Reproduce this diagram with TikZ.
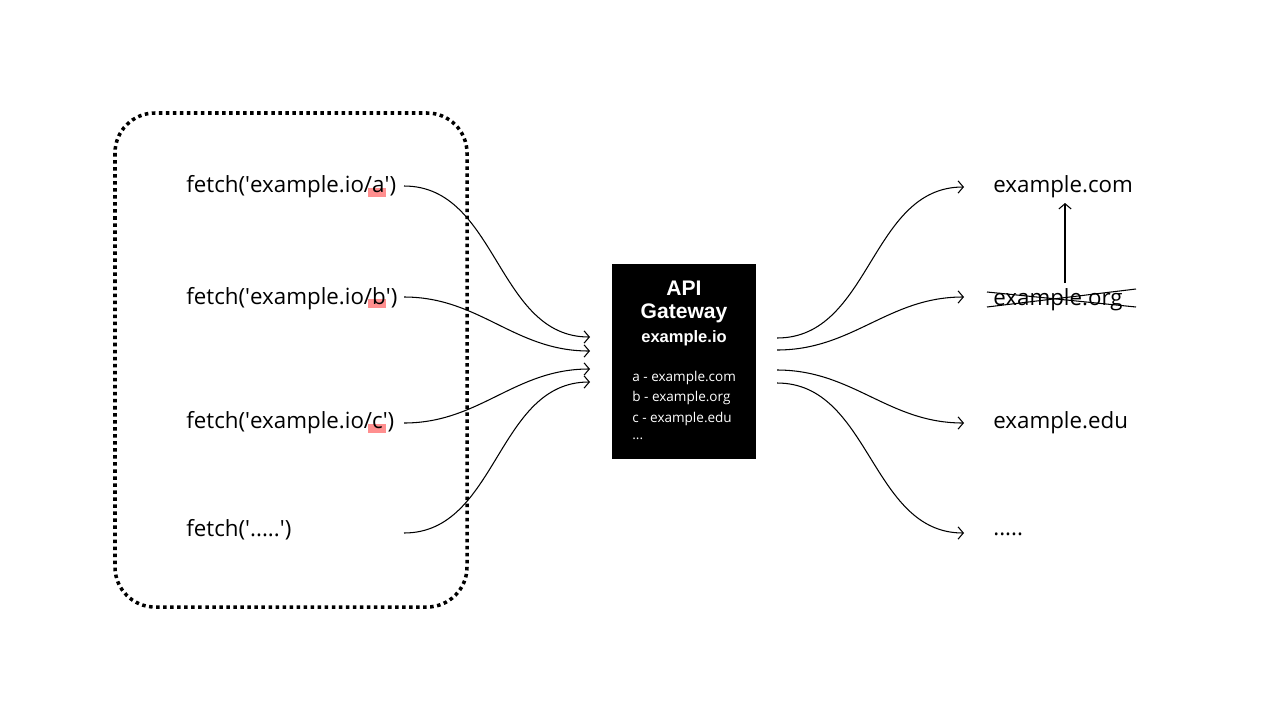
\documentclass[tikz,border=0pt]{standalone}
\usepackage{fontspec}
\setmainfont{Open Sans}
\newfontfamily\gwfont{Liberation Sans}
\usetikzlibrary{calc,arrows.meta}
\newcommand\sq{\textquotesingle}

\begin{document}
\begin{tikzpicture}[x=0.02cm,y=-0.02cm,font=\fontsize{12.7}{15}\selectfont]
\tikzset{
  txt/.style={anchor=west,inner sep=0pt},
  link/.style={-{Straight Barb[length=3pt,width=7pt]},line width=0.6pt},
  hilite/.style={fill=red!55!white,opacity=0.8},
  gwtitle/.style={white,font=\gwfont\bfseries\fontsize{12}{14}\selectfont},
  gwlist/.style={txt,white,font=\fontsize{7.7}{9}\selectfont}
}
\useasboundingbox (0,0) rectangle (1280,720);

\begin{scope}
% the client
\draw[line width=2pt,dash pattern=on 2pt off 2pt,rounded corners=0.8cm] (115,113) rectangle (467,607);

\fill[hilite] (368,188) rectangle (386,197);
\fill[hilite] (368,299) rectangle (386,308);
\fill[hilite] (368,424) rectangle (386,433);

\node[txt] (fa) at (186,187) {fetch(\sq example.io/a\sq)};
\node[txt] (fb) at (186,299) {fetch(\sq example.io/b\sq)};
\node[txt] (fc) at (186,423) {fetch(\sq example.io/c\sq)};
\node[txt] (fd) at (186,530) {fetch(\sq.....\sq)};

\coordinate (s1) at (404,186);
\coordinate (s2) at (404,297);
\coordinate (s3) at (404,423);
\coordinate (s4) at (404,533);
\end{scope}

\begin{scope}
% the gateway
\node[fill=black,minimum width=2.88cm,minimum height=3.9cm,inner sep=0pt] (gw) at (684,361.5) {};
\node[gwtitle] (api) at (684,288) {API};
\node[gwtitle] (gwy) at (684,313) {Gateway};
\node[gwtitle,font=\gwfont\bfseries\fontsize{9.4}{11}\selectfont] (io) at (684,338) {example.io};
\node[gwlist] (la) at (632,378) {a - example.com};
\node[gwlist] (lb) at (632,398) {b - example.org};
\node[gwlist] (lc) at (632,419) {c - example.edu};
\node[gwlist] (ld) at (632,439) {...};

\coordinate (e1) at (590,337);
\coordinate (e2) at (590,351);
\coordinate (e3) at (590,369);
\coordinate (e4) at (590,382);

\coordinate (u1) at (777,338);
\coordinate (u2) at (777,350);
\coordinate (u3) at (777,370);
\coordinate (u4) at (777,383);
\end{scope}

\begin{scope}
% the origins
\node[txt] (com) at (993,187) {example.com};
\node[txt] (org) at (993,300) {example.org};
\node[txt] (edu) at (993,423) {example.edu};
\node[txt] (etc) at (993,534) {.....};

\draw[line width=0.6pt] (987,292) -- (1136,307);
\draw[line width=0.6pt] (987,307) -- (1136,289);

\coordinate (t1) at (964,187);
\coordinate (t2) at (964,297);
\coordinate (t3) at (964,423);
\coordinate (t4) at (964,533);

\coordinate (v1) at (1065,283);
\coordinate (v2) at (1065,203);
\draw[link] (v1) -- (v2);
\end{scope}

\foreach \i in {1,...,4} {
  \draw[link] (s\i) to[out=0,in=180] (e\i);
  \draw[link] (u\i) to[out=0,in=180] (t\i);
}

\end{tikzpicture}
\end{document}
